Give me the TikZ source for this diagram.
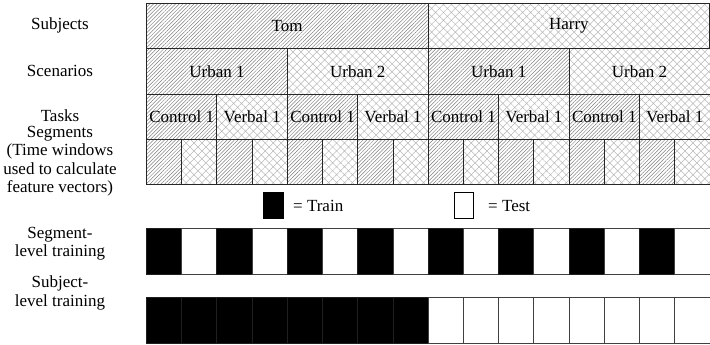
\documentclass[tikz,border=0pt]{standalone}
\usepackage{fontspec}
\setmainfont{Liberation Serif}
\usetikzlibrary{patterns.meta}
\tikzset{
  cell/.style={draw=black!85, line width=1pt, inner sep=0pt, anchor=north west, minimum height=45.3pt},
  hatchfill/.style={pattern={Lines[angle=45,distance=2.6pt,line width=0.5pt]}, pattern color=black!50},
  crossfill/.style={pattern={Hatch[angle=45,distance=5.6pt,line width=0.5pt]}, pattern color=black!28},
  fill0/.style={hatchfill},
  fill1/.style={crossfill},
  lbl/.style={align=center, inner sep=0pt, font=\fontsize{17}{18.5}\selectfont},
  txt/.style={font=\fontsize{17}{18.5}\selectfont},
  bar/.style={line width=0.9pt, inner sep=0pt, anchor=north west, minimum width=35.22pt, minimum height=46pt},
  trainc/.style={fill=black, draw=black!88},
  testc/.style={fill=white, draw=black!75},
}
\begin{document}
\begin{tikzpicture}[x=1pt,y=-1pt]
\useasboundingbox (0,0) rectangle (710,345);
\def\W{35.22}
% subjects
\foreach \t [count=\i from 0] in {Tom,Harry}{
  \pgfmathsetmacro\xx{146+\i*8*\W}
  \node[cell, fill\i, minimum width={8*\W pt}, txt] (subj\i) at (\xx,3) {\t};
}
% scenarios
\foreach \t [count=\i from 0] in {Urban 1,Urban 2,Urban 1,Urban 2}{
  \pgfmathsetmacro\xx{146+\i*4*\W}
  \pgfmathtruncatemacro\p{mod(\i,2)}
  \node[cell, fill\p, minimum width={4*\W pt}, txt] (scen\i) at (\xx,48.3) {\t};
}
% tasks
\foreach \t [count=\i from 0] in {Control 1,Verbal 1,Control 1,Verbal 1,Control 1,Verbal 1,Control 1,Verbal 1}{
  \pgfmathsetmacro\xx{146+\i*2*\W}
  \pgfmathtruncatemacro\p{mod(\i,2)}
  \node[cell, fill\p, minimum width={2*\W pt}, txt, inner sep=0pt] (task\i) at (\xx,93.6) {\t};
}
% segments
\foreach \i in {0,...,15}{
  \pgfmathsetmacro\xx{146+\i*\W}
  \pgfmathtruncatemacro\p{mod(\i,2)}
  \node[cell, fill\p, minimum width={\W pt}] (seg\i) at (\xx,138.9) {};
}
% left labels
\node[lbl] (lsubj) at (60,25.5) {Subjects};
\node[lbl] (lscen) at (60,70.5) {Scenarios};
\node[lbl] (ltask) at (60,115.5) {Tasks};
\node[lbl] (lseg) at (60,161) {Segments\\(Time windows\\used to calculate\\feature vectors)};
\node[lbl] (lsl) at (60,243.5) {Segment-\\level training};
\node[lbl] (ljl) at (60,293) {Subject-\\level training};
% legend
\node[fill=black, draw=black, inner sep=0pt, minimum width=20pt, minimum height=26pt] (trainbox) at (273,205) {};
\node[txt, inner sep=0pt, anchor=west] (traintxt) at (293,206) {= Train};
\node[fill=white, draw=black, line width=0.9pt, inner sep=0pt, minimum width=19pt, minimum height=26pt] (testbox) at (463.5,205) {};
\node[txt, inner sep=0pt, anchor=west] (testtxt) at (488,206) {= Test};
% segment-level training
\foreach \i in {0,...,15}{
  \pgfmathsetmacro\xx{146+\i*\W}
  \pgfmathtruncatemacro\p{mod(\i,2)}
  \ifnum\p=0
    \node[bar, trainc] (sl\i) at (\xx,228) {};
  \else
    \node[bar, testc] (sl\i) at (\xx,228) {};
  \fi
}
% subject-level training
\foreach \i in {0,...,15}{
  \pgfmathsetmacro\xx{146+\i*\W}
  \ifnum\i<8
    \node[bar, trainc] (jl\i) at (\xx,297) {};
  \else
    \node[bar, testc] (jl\i) at (\xx,297) {};
  \fi
}
\end{tikzpicture}
\end{document}
